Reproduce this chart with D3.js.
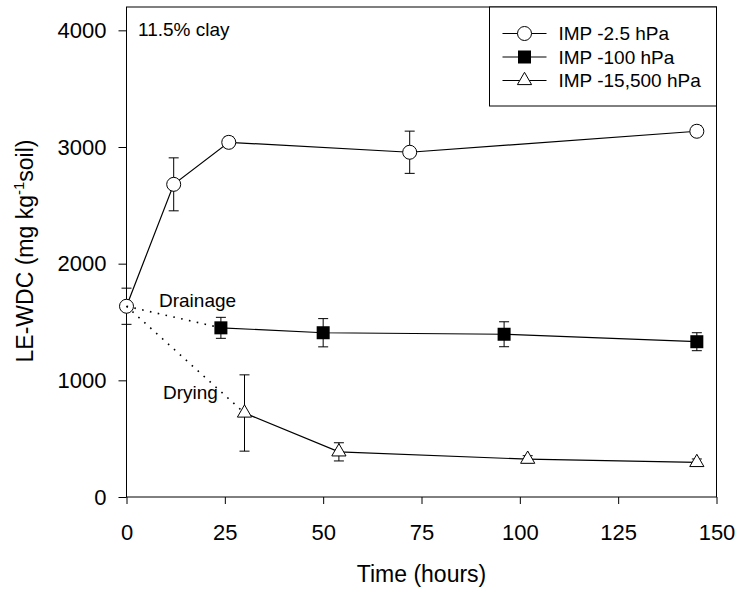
<!DOCTYPE html>
<html>
<head>
<meta charset="utf-8">
<script src="https://cdn.jsdelivr.net/npm/d3@7"></script>
<style>
  body { margin: 0; background: #fff; }
  svg { display: block; }
  text { font-family: "Liberation Sans", Arial, sans-serif; fill: #000; }
</style>
</head>
<body>
<svg id="chart" width="740" height="597"></svg>
<script>
// LE-WDC (mg/kg soil) over time for three matric potentials, 11.5% clay soil
const hoursWet = [0, 12, 26, 72, 145];
const wdcWet = [1635, 2680, 3040, 2955, 3135];
const seWet = [155, 227, 45, 181, 45];

const hoursDrain = [24, 50, 96, 145];
const wdcDrain = [1450, 1408, 1395, 1331];
const seDrain = [90, 121, 107, 77];

const hoursDry = [30, 54, 102, 145];
const wdcDry = [720, 387, 324, 296];
const seDry = [327, 78, 30, 30];

const seriesNames = ["IMP -2.5 hPa", "IMP -100 hPa", "IMP -15,500 hPa"];
const xTicks = [0, 25, 50, 75, 100, 125, 150];
const yTicks = [0, 1000, 2000, 3000, 4000];

const svg = d3.select("#chart");
const x = d3.scaleLinear().domain([0, 150]).range([126.5, 716.5]);
const y = d3.scaleLinear().domain([0, 4200]).range([497, 7]);

const zip = (h, v, e) => h.map((t, i) => ({ t, v: v[i], e: e[i] }));
const series = [
  { name: seriesNames[0], pts: zip(hoursWet, wdcWet, seWet), shape: "circle" },
  { name: seriesNames[1], pts: zip(hoursDrain, wdcDrain, seDrain), shape: "square" },
  { name: seriesNames[2], pts: zip(hoursDry, wdcDry, seDry), shape: "triangle" }
];

// marker shapes
function drawMarker(g, shape, cx, cy) {
  if (shape === "circle") {
    g.append("circle").attr("cx", cx).attr("cy", cy).attr("r", 7)
      .attr("fill", "#fff").attr("stroke", "#000").attr("stroke-width", 1);
  } else if (shape === "square") {
    g.append("rect").attr("x", cx - 6.5).attr("y", cy - 6.5)
      .attr("width", 13).attr("height", 13).attr("fill", "#000");
  } else {
    const h = 4.1;
    const p = d3.path();
    p.moveTo(cx, cy - 2 * h);
    p.lineTo(cx - Math.sqrt(3) * h, cy + h);
    p.lineTo(cx + Math.sqrt(3) * h, cy + h);
    p.closePath();
    g.append("path").attr("d", p.toString())
      .attr("fill", "#fff").attr("stroke", "#000").attr("stroke-width", 1);
  }
}

// axes
const yAxis = d3.axisLeft(y).tickValues(yTicks).tickFormat(d3.format("d"))
  .tickSize(8).tickSizeOuter(0).tickPadding(12);
const xAxis = d3.axisBottom(x).tickValues(xTicks).tickFormat(d3.format("d"))
  .tickSize(7).tickSizeOuter(0).tickPadding(20);

const gy = svg.append("g").attr("transform", "translate(126.5,0)").call(yAxis);
gy.select(".domain").remove();
gy.selectAll("text").attr("font-size", 22).attr("font-family", "'Liberation Sans', Arial, sans-serif");

const gx = svg.append("g").attr("transform", "translate(0,497)").call(xAxis);
gx.select(".domain").remove();
gx.selectAll("text").attr("font-size", 22).attr("font-family", "'Liberation Sans', Arial, sans-serif");

// frame
svg.append("rect").attr("x", x(0)).attr("y", y(4200))
  .attr("width", x(150) - x(0)).attr("height", y(0) - y(4200))
  .attr("fill", "none").attr("stroke", "#000").attr("stroke-width", 1);

// connecting lines
const line = d3.line().x(d => x(d.t)).y(d => y(d.v));
series.forEach(s => {
  svg.append("path").datum(s.pts).attr("d", line)
    .attr("fill", "none").attr("stroke", "#000").attr("stroke-width", 1.2);
});

// error bars
series.forEach(s => {
  s.pts.forEach(d => {
    const g = svg.append("g").attr("stroke", "#000").attr("stroke-width", 1);
    const cx = x(d.t);
    g.append("line").attr("x1", cx).attr("x2", cx).attr("y1", y(d.v + d.e)).attr("y2", y(d.v - d.e));
    [d.v + d.e, d.v - d.e].forEach(v => {
      g.append("line").attr("x1", cx - 5).attr("x2", cx + 5).attr("y1", y(v)).attr("y2", y(v));
    });
  });
});

// markers
series.forEach(s => {
  const g = svg.append("g");
  s.pts.forEach(d => drawMarker(g, s.shape, x(d.t), y(d.v)));
});

// dotted transitions from the saturated start point
const start = series[0].pts[0];
[series[1].pts[0], series[2].pts[0]].forEach(end => {
  svg.append("line")
    .attr("x1", x(start.t)).attr("y1", y(start.v))
    .attr("x2", x(end.t)).attr("y2", y(end.v))
    .attr("stroke", "#000").attr("stroke-width", 1.6)
    .attr("stroke-dasharray", "1.6,6.4");
});

// annotations
svg.append("text").attr("x", 138).attr("y", 35.5).attr("font-size", 19).text("11.5% clay");
svg.append("text").attr("x", 159).attr("y", 306.5).attr("font-size", 19).text("Drainage");
svg.append("text").attr("x", 163).attr("y", 399).attr("font-size", 19).text("Drying");

// axis titles
svg.append("text").attr("x", 421.5).attr("y", 582).attr("text-anchor", "middle")
  .attr("font-size", 23).text("Time (hours)");

const yt = svg.append("text")
  .attr("transform", "translate(32.5,251) rotate(-90)")
  .attr("text-anchor", "middle").attr("font-size", 23);
yt.append("tspan").text("LE-WDC (mg kg");
yt.append("tspan").attr("font-size", 15).attr("dy", -9).text("-1");
yt.append("tspan").attr("dy", 9).text("soil)");

// legend
const lg = svg.append("g");
lg.append("rect").attr("x", 489.5).attr("y", 7).attr("width", 227).attr("height", 99)
  .attr("fill", "#fff").attr("stroke", "#000").attr("stroke-width", 1);
const legendY = [33.5, 57, 80.5];
series.forEach((s, i) => {
  const ly = legendY[i];
  lg.append("line").attr("x1", 502.5).attr("x2", 546.5).attr("y1", ly).attr("y2", ly)
    .attr("stroke", "#000").attr("stroke-width", 1.2);
  drawMarker(lg, s.shape, 524.5, ly);
  lg.append("text").attr("x", 558.5).attr("y", ly).attr("dy", "0.35em")
    .attr("font-size", 19).text(s.name);
});
</script>
</body>
</html>
